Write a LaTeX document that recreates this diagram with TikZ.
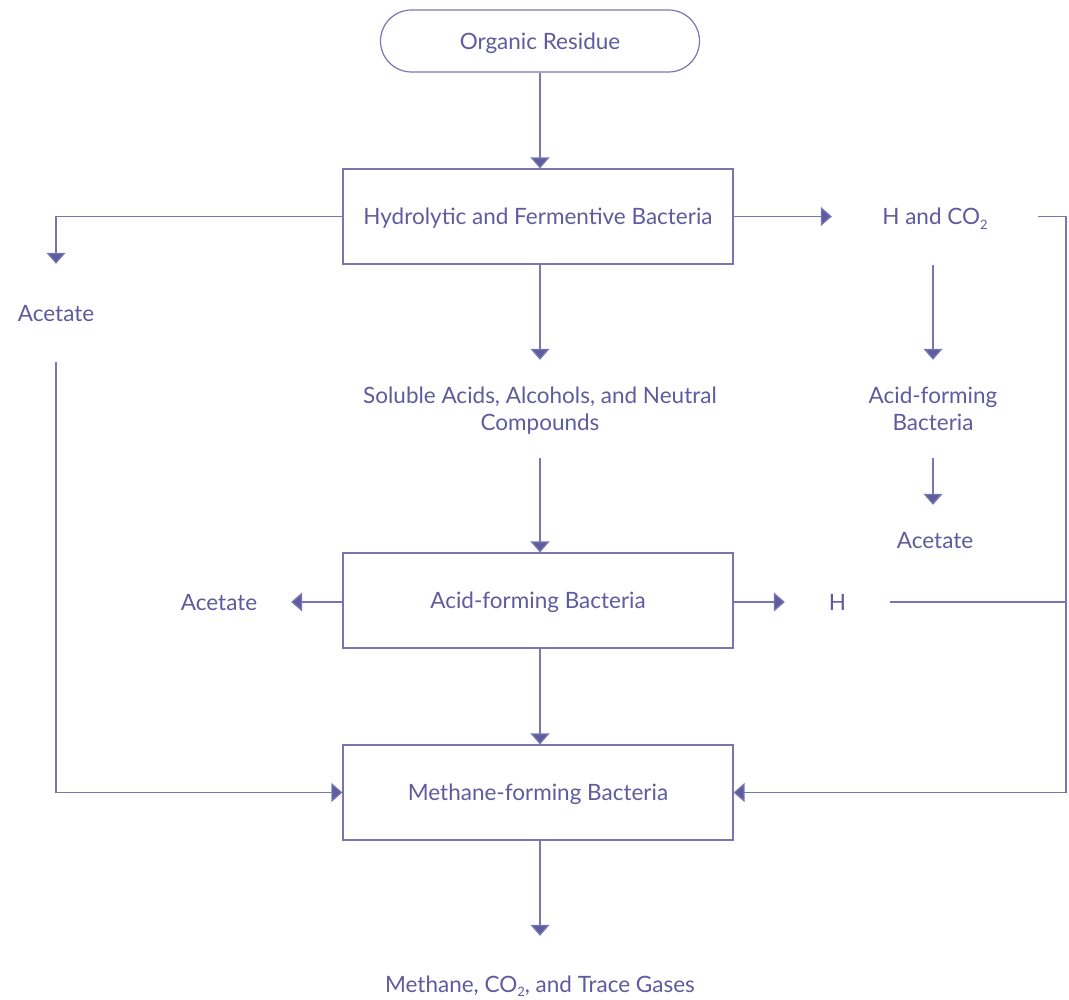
\documentclass[tikz,border=0pt]{standalone}
\usepackage{fontspec}
\setmainfont{Lato}
\usetikzlibrary{arrows.meta}
\definecolor{inktext}{RGB}{94,91,158}
\definecolor{inkline}{RGB}{120,118,178}
\newcommand{\sub}[1]{\raisebox{-0.4ex}{\fontsize{13}{13}\selectfont #1}}
\begin{document}
\begin{tikzpicture}[x=1pt,y=-1pt,
    >={Triangle[width=19pt,length=11pt,fill=inktext]},
    every node/.style={text=inktext,font=\fontsize{22.5}{27}\selectfont,align=center,text depth=0pt},
    flow/.style={draw=inkline,line width=1.3pt},
    stage/.style={draw=inkline,line width=1.2pt,minimum width=390pt,minimum height=95pt,inner sep=0pt},
    label/.style={inner sep=0pt}]
  \useasboundingbox (0,0) rectangle (1069,1000);
  % stages
  \node[draw=inkline,line width=1.2pt,rounded corners=31pt,minimum width=319pt,minimum height=62pt,inner sep=0pt] (res) at (540,41) {Organic Residue};
  \node[stage] (hyd) at (538,216.5) {Hydrolytic and Fermentive Bacteria};
  \node[stage] (acid) at (538,600.5) {Acid-forming Bacteria};
  \node[stage] (meth) at (538,792.5) {Methane-forming Bacteria};
  % products
  \node[label,minimum height=98pt] (acetL) at (56,313) {Acetate};
  \node[label,minimum width=206pt,minimum height=97pt] (hco) at (935,216.5) {H and CO\sub{2}};
  \node[label,minimum height=98pt] (sol) at (540,409) {Soluble Acids, Alcohols, and Neutral\\Compounds};
  \node[label,minimum height=98pt] (acidR) at (933,409) {Acid-forming\\Bacteria};
  \node[label,minimum height=70pt] (acetR) at (935,540) {Acetate};
  \node[label,minimum width=144pt] (acetM) at (219,602) {Acetate};
  \node[label,minimum width=105pt] (hyd2) at (837.5,602) {H};
  \node[label,minimum height=96pt] (gas) at (540,984) {Methane, CO\sub{2}, and Trace Gases};
  \coordinate (rail) at (1066,0);
  % connectors
  \draw[flow,->] (res.south -| hyd.north) ++(2,0) -- (hyd.north -| sol.south);
  \draw[flow,->] (hyd.west) -| (acetL.north);
  \draw[flow,->] (hyd.east) -- (hco.west);
  \draw[flow,->] (hco.east) -- (hco.east -| rail) |- (meth.east);
  \draw[flow,->] (hco.south -| acidR.north) -- (acidR.north);
  \draw[flow,->] (acidR.south) -- (acetR.north -| acidR.south);
  \draw[flow,->] (hyd.south -| sol.north) -- (sol.north);
  \draw[flow,->] (sol.south) -- (acid.north -| sol.south);
  \draw[flow,->] (acid.west |- acetM.east) -- (acetM.east);
  \draw[flow,->] (acid.east |- hyd2.west) -- (hyd2.west);
  \draw[flow] (hyd2.east) -- (hyd2.east -| rail);
  \draw[flow,->] (acid.south -| sol.south) -- (meth.north -| sol.south);
  \draw[flow,->] (acetL.south) |- (meth.west);
  \draw[flow,->] (meth.south -| gas.north) -- (gas.north);
\end{tikzpicture}
\end{document}
